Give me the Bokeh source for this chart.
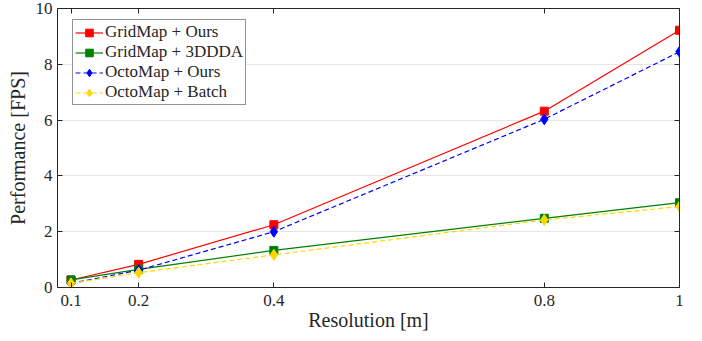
from bokeh.plotting import figure
from bokeh.models import LinearAxis, FixedTicker, Range1d, Legend, LegendItem
from bokeh.embed import file_html
from bokeh.resources import INLINE

resolution = [0.1, 0.2, 0.4, 0.8, 1.0]
grid_ours = [0.27, 0.83, 2.25, 6.32, 9.22]
grid_3ddda = [0.27, 0.65, 1.33, 2.48, 3.04]
octo_ours = [0.15, 0.62, 2.0, 6.03, 8.45]
octo_batch = [0.15, 0.53, 1.17, 2.42, 2.9]
x_ticks = [0.1, 0.2, 0.4, 0.8, 1.0]
y_ticks = [0, 2, 4, 6, 8, 10]

FONT = "Liberation Serif"
AX = "#262626"
FS = "17px"
LFS = "20px"

p = figure(width=694, height=333, output_backend="svg", toolbar_location=None,
           x_range=Range1d(0.08, 1.0), y_range=Range1d(0, 10),
           min_border_left=57, min_border_right=15, min_border_top=8, min_border_bottom=43,
           x_axis_label="Resolution [m]", y_axis_label="Performance [FPS]")
p.outline_line_color = None
p.background_fill_color = "white"
p.border_fill_color = "white"
p.xgrid.grid_line_color = None
p.ygrid.grid_line_color = "#e6e6e6"
p.ygrid.grid_line_width = 1

for ax in [p.xaxis[0], p.yaxis[0]]:
    ax.axis_line_color = AX
    ax.major_tick_line_color = AX
    ax.major_tick_in = 5
    ax.major_tick_out = 0
    ax.minor_tick_line_color = None
    ax.major_label_text_font = FONT
    ax.major_label_text_font_size = FS
    ax.major_label_text_color = AX
    ax.axis_label_text_font = FONT
    ax.axis_label_text_font_size = LFS
    ax.axis_label_text_font_style = "normal"
    ax.axis_label_text_color = AX
p.xaxis[0].ticker = FixedTicker(ticks=x_ticks)
p.xaxis[0].major_label_overrides = {1.0: "1", 1: "1"}
p.xaxis[0].major_label_standoff = 7
p.yaxis[0].ticker = FixedTicker(ticks=y_ticks)
p.yaxis[0].major_label_standoff = 5
p.xaxis[0].axis_label_standoff = 0
p.yaxis[0].axis_label_standoff = 4

top = LinearAxis(ticker=FixedTicker(ticks=x_ticks),
                 major_label_overrides={t: "" for t in x_ticks},
                 axis_line_color=AX, major_tick_line_color=AX, major_tick_in=5, major_tick_out=0,
                 minor_tick_line_color=None, major_label_standoff=0)
right = LinearAxis(ticker=FixedTicker(ticks=y_ticks),
                   major_label_overrides={t: "" for t in y_ticks},
                   axis_line_color=AX, major_tick_line_color=AX, major_tick_in=5, major_tick_out=0,
                   minor_tick_line_color=None, major_label_standoff=0)
p.add_layout(top, "above")
p.add_layout(right, "right")

r1 = p.line(resolution, grid_ours, color="#ff0000", line_width=1.2)
m1 = p.scatter(resolution, grid_ours, marker="square", size=8, color="#ff0000")
r2 = p.line(resolution, grid_3ddda, color="#008000", line_width=1.2)
m2 = p.scatter(resolution, grid_3ddda, marker="square", size=8, color="#008000")
r3 = p.line(resolution, octo_ours, color="#0000ff", line_width=1.2, line_dash="5 3")
m3 = p.scatter(resolution, octo_ours, marker="diamond", size=11, color="#0000ff")
r4 = p.line(resolution, octo_batch, color="#ffd700", line_width=1.2, line_dash="5 3")
m4 = p.scatter(resolution, octo_batch, marker="diamond", size=11, color="#ffd700")

legend = Legend(items=[
    LegendItem(label="GridMap + Ours", renderers=[r1, m1]),
    LegendItem(label="GridMap + 3DDDA", renderers=[r2, m2]),
    LegendItem(label="OctoMap + Ours", renderers=[r3, m3]),
    LegendItem(label="OctoMap + Batch", renderers=[r4, m4]),
], location=(15, 182))
legend.label_text_font = FONT
legend.label_text_font_size = FS
legend.label_text_color = AX
legend.label_height = 19
legend.glyph_height = 19
legend.glyph_width = 28
legend.label_standoff = 2
legend.spacing = 0
legend.padding = 2
legend.margin = 0
legend.border_line_color = AX
legend.border_line_width = 1
legend.background_fill_alpha = 1
p.add_layout(legend, "center")

open("out.html", "w").write(file_html(p, INLINE))
